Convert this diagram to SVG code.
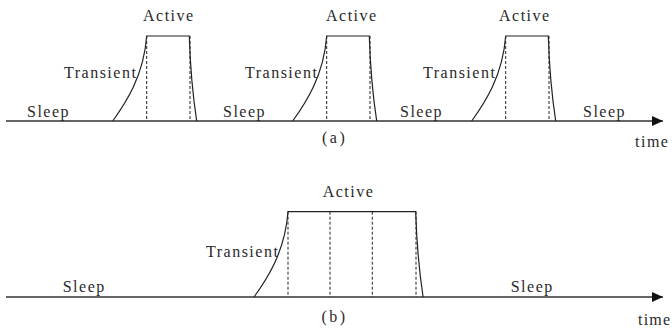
<svg xmlns="http://www.w3.org/2000/svg" width="672" height="335" viewBox="0 0 672 335">
  <style>
    text { font-family: "Liberation Serif", "Times New Roman", serif; font-size: 16px; letter-spacing: 1.5px; fill: #2a2a2a; }
    .cap { letter-spacing: 2.5px; }
    .pulse { fill: none; stroke: #222; stroke-width: 1.2; }
    .dash { fill: none; stroke: #222; stroke-width: 1; stroke-dasharray: 3 2; }
    .axis { fill: none; stroke: #333; stroke-width: 1.3; }
  </style>
  <defs>
    <marker id="arrow" markerUnits="userSpaceOnUse" markerWidth="12" markerHeight="12" refX="11" refY="5" orient="auto">
      <polygon points="0,0 11,5 0,10" fill="#111"/>
    </marker>
  </defs>

  <g id="connectors">
    <line class="axis" x1="6" y1="121" x2="663" y2="121" marker-end="url(#arrow)"/>
    <line class="axis" x1="6" y1="297" x2="663" y2="297" marker-end="url(#arrow)"/>
  </g>

  <!-- Panel (a) -->
  <g id="pulse-a1">
    <path class="pulse" d="M112.7,121 c13,-18 31,-45 34,-85 h42.6 c0.7,24 2.7,54 7.4,85"/>
    <line class="dash" x1="146.7" y1="36" x2="146.7" y2="121"/>
    <line class="dash" x1="190" y1="36" x2="190" y2="121"/>
    <text x="143" y="20.5">Active</text>
    <text x="64" y="78">Transient</text>
  </g>
  <g id="pulse-a2">
    <path class="pulse" d="M292.7,121 c13,-18 31,-45 34,-85 h42.6 c0.7,24 2.7,54 7.4,85"/>
    <line class="dash" x1="326.7" y1="36" x2="326.7" y2="121"/>
    <line class="dash" x1="370" y1="36" x2="370" y2="121"/>
    <text x="326" y="20.5">Active</text>
    <text x="245" y="78">Transient</text>
  </g>
  <g id="pulse-a3">
    <path class="pulse" d="M471.7,121 c13,-18 31,-45 34,-85 h42.6 c0.7,24 2.7,54 7.4,85"/>
    <line class="dash" x1="505.7" y1="36" x2="505.7" y2="121"/>
    <line class="dash" x1="549" y1="36" x2="549" y2="121"/>
    <text x="499" y="20.5">Active</text>
    <text x="423" y="78">Transient</text>
  </g>
  <g id="sleep-a">
    <text x="27" y="117">Sleep</text>
    <text x="223" y="117">Sleep</text>
    <text x="400" y="117">Sleep</text>
    <text x="583" y="117">Sleep</text>
  </g>
  <g id="labels-a">
    <text x="635" y="146.7">time</text>
    <text class="cap" x="322" y="142.5">(a)</text>
  </g>

  <!-- Panel (b) -->
  <g id="pulse-b">
    <path class="pulse" d="M254,297 c13,-18 31,-45 34,-85.3 h127.7 c0.7,24 2.7,54 7.4,85.3"/>
    <line class="dash" x1="288" y1="211.7" x2="288" y2="297"/>
    <line class="dash" x1="330" y1="211.7" x2="330" y2="297"/>
    <line class="dash" x1="372.3" y1="211.7" x2="372.3" y2="297"/>
    <line class="dash" x1="416" y1="211.7" x2="416" y2="297"/>
    <text x="322.7" y="197.3">Active</text>
    <text x="206" y="256.7">Transient</text>
  </g>
  <g id="sleep-b">
    <text x="62.7" y="291.5">Sleep</text>
    <text x="510.7" y="291.5">Sleep</text>
  </g>
  <g id="labels-b">
    <text x="638" y="325" style="letter-spacing:1.2px">time</text>
    <text class="cap" x="321.5" y="322">(b)</text>
  </g>
</svg>
